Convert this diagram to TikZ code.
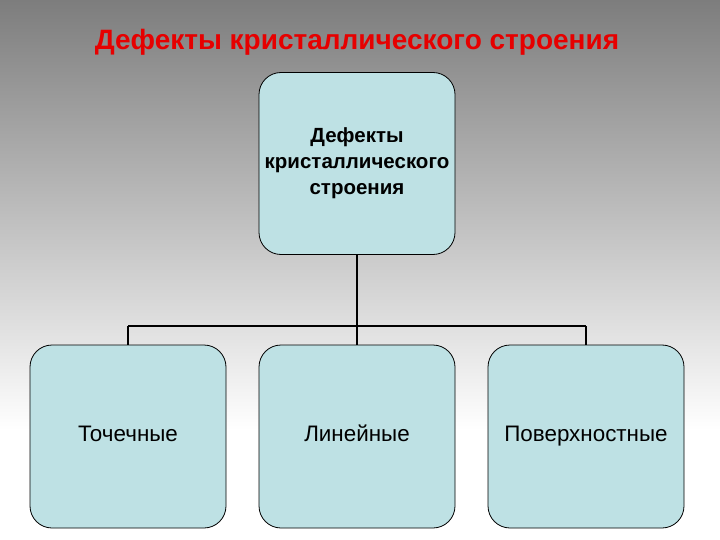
\documentclass[tikz,border=0pt]{standalone}
\usepackage{fontspec}
\setmainfont{Liberation Sans}
\begin{document}
\begin{tikzpicture}[x=1pt,y=-1pt,
  box/.style={draw=black,line width=0.8pt,fill=boxc,rounded corners=22pt,minimum width=196pt,minimum height=182pt,inner sep=1pt,font=\fontsize{22.4}{27}\selectfont,align=center},
  ln/.style={line width=2pt}]
\definecolor{boxc}{RGB}{190,225,228}
\definecolor{titc}{RGB}{230,0,0}
\shade[top color={rgb,255:red,125;green,125;blue,125},bottom color=white] (0,0) rectangle (720,430);
\fill[white] (0,430) rectangle (720,540);
\useasboundingbox (0,0) rectangle (720,540);
\node (title) at (357,42) {\fontsize{28}{32}\selectfont\bfseries\color{titc}Дефекты кристаллического строения};
\node[box,text width=192pt,font=\fontsize{20.5}{26}\selectfont] (top) at (357,163.5) {\bfseries Дефекты\\\bfseries кристаллического\\\bfseries строения};
\node[box,minimum height=183pt] (b1) at (128,436.5) {\strut Точечные};
\node[box,minimum height=183pt] (b2) at (357,436.5) {\strut Линейные};
\node[box,minimum height=183pt] (b3) at (586,436.5) {\strut Поверхностные};
\coordinate (h1) at (128,326);
\coordinate (h2) at (357,326);
\coordinate (h3) at (586,326);
\draw[ln] (top.south) -- (h2);
\draw[ln] (h1) -- (h3);
\draw[ln] (h1) -- (b1.north);
\draw[ln] (h2) -- (b2.north);
\draw[ln] (h3) -- (b3.north);
\end{tikzpicture}
\end{document}
